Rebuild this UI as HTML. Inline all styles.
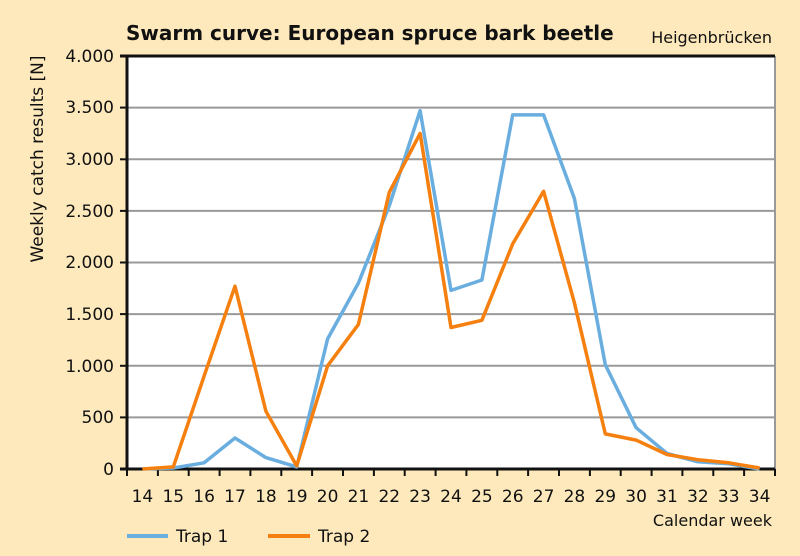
<!DOCTYPE html><html><head><style>body{margin:0;background:#fde9bb}svg{display:block}text{font-family:"DejaVu Sans","Liberation Sans",sans-serif;fill:#111}</style></head><body>
<svg width="800" height="556" viewBox="0 0 800 556">
<rect width="800" height="556" fill="#fde9bb"/>
<rect x="127" y="56" width="648" height="413" fill="#fff"/>
<g stroke="#999" stroke-width="2">
<line x1="127" x2="775" y1="107.6" y2="107.6"/><line x1="127" x2="775" y1="159.3" y2="159.3"/><line x1="127" x2="775" y1="210.9" y2="210.9"/><line x1="127" x2="775" y1="262.5" y2="262.5"/><line x1="127" x2="775" y1="314.1" y2="314.1"/><line x1="127" x2="775" y1="365.8" y2="365.8"/><line x1="127" x2="775" y1="417.4" y2="417.4"/>
</g>
<g stroke="#111" stroke-width="3" fill="none">
<line x1="775" y1="56" x2="775" y2="469" stroke="#999" stroke-width="2"/>
<line x1="120" y1="56" x2="775" y2="56"/>
<line x1="127" y1="56" x2="127" y2="470"/>
<line x1="120" y1="469" x2="775" y2="469"/>
<g stroke-width="2"><line x1="120" x2="127" y1="107.6" y2="107.6"/><line x1="120" x2="127" y1="159.3" y2="159.3"/><line x1="120" x2="127" y1="210.9" y2="210.9"/><line x1="120" x2="127" y1="262.5" y2="262.5"/><line x1="120" x2="127" y1="314.1" y2="314.1"/><line x1="120" x2="127" y1="365.8" y2="365.8"/><line x1="120" x2="127" y1="417.4" y2="417.4"/></g>
<path stroke-width="2" d="M127 469v7M157.9 469v7M188.7 469v7M219.6 469v7M250.4 469v7M281.3 469v7M312.1 469v7M343 469v7M373.9 469v7M404.7 469v7M435.6 469v7M466.4 469v7M497.3 469v7M528.1 469v7M559 469v7M589.9 469v7M620.7 469v7M651.6 469v7M682.4 469v7M713.3 469v7M744.1 469v7M775 469v7"/>
</g>
<g font-size="17" text-anchor="end">
<text x="114" y="62">4.000</text><text x="114" y="113">3.500</text><text x="114" y="165">3.000</text><text x="114" y="217">2.500</text><text x="114" y="268">2.000</text><text x="114" y="320">1.500</text><text x="114" y="372">1.000</text><text x="114" y="423">500</text><text x="114" y="475">0</text>
</g>
<g font-size="17" text-anchor="middle">
<text x="142.4" y="502">14</text><text x="173.3" y="502">15</text><text x="204.1" y="502">16</text><text x="235" y="502">17</text><text x="265.9" y="502">18</text><text x="296.7" y="502">19</text><text x="327.6" y="502">20</text><text x="358.4" y="502">21</text><text x="389.3" y="502">22</text><text x="420.1" y="502">23</text><text x="451" y="502">24</text><text x="481.9" y="502">25</text><text x="512.7" y="502">26</text><text x="543.6" y="502">27</text><text x="574.4" y="502">28</text><text x="605.3" y="502">29</text><text x="636.1" y="502">30</text><text x="667" y="502">31</text><text x="697.9" y="502">32</text><text x="728.7" y="502">33</text><text x="759.6" y="502">34</text>
</g>
<text x="772" y="526" font-size="16" text-anchor="end">Calendar week</text>
<text x="43" y="159" font-size="17" text-anchor="middle" transform="rotate(-90 43 159)">Weekly catch results [N]</text>
<text x="126" y="40" font-size="20" font-weight="bold">Swarm curve: European spruce bark beetle</text>
<text x="772" y="43" font-size="16" text-anchor="end">Heigenbrücken</text>
<polyline fill="none" stroke="#6aaee0" stroke-width="3.5" stroke-linejoin="round" points="142.4,469 173.3,468 204.1,462.8 235,438 265.9,457.6 296.7,466.9 327.6,338.9 358.4,283.1 389.3,205.7 420.1,110.7 451,290.4 481.9,280 512.7,114.9 543.6,114.9 574.4,198.5 605.3,364.7 636.1,427.7 667,453.5 697.9,461.8 728.7,463.8 759.6,469"/>
<polyline fill="none" stroke="#f58010" stroke-width="3.5" stroke-linejoin="round" points="142.4,469 173.3,466.9 204.1,376.1 235,286.2 265.9,411.2 296.7,465.9 327.6,365.8 358.4,324.4 389.3,192.3 420.1,133.4 451,327.5 481.9,320.3 512.7,243.9 543.6,191.3 574.4,302.8 605.3,433.9 636.1,440.1 667,454.5 697.9,459.7 728.7,462.8 759.6,468"/>
<line x1="127" y1="536" x2="168" y2="536" stroke="#6aaee0" stroke-width="4"/>
<text x="176" y="542" font-size="17">Trap 1</text>
<line x1="268" y1="536" x2="310" y2="536" stroke="#f58010" stroke-width="4"/>
<text x="318" y="542" font-size="17">Trap 2</text>
</svg></body></html>
